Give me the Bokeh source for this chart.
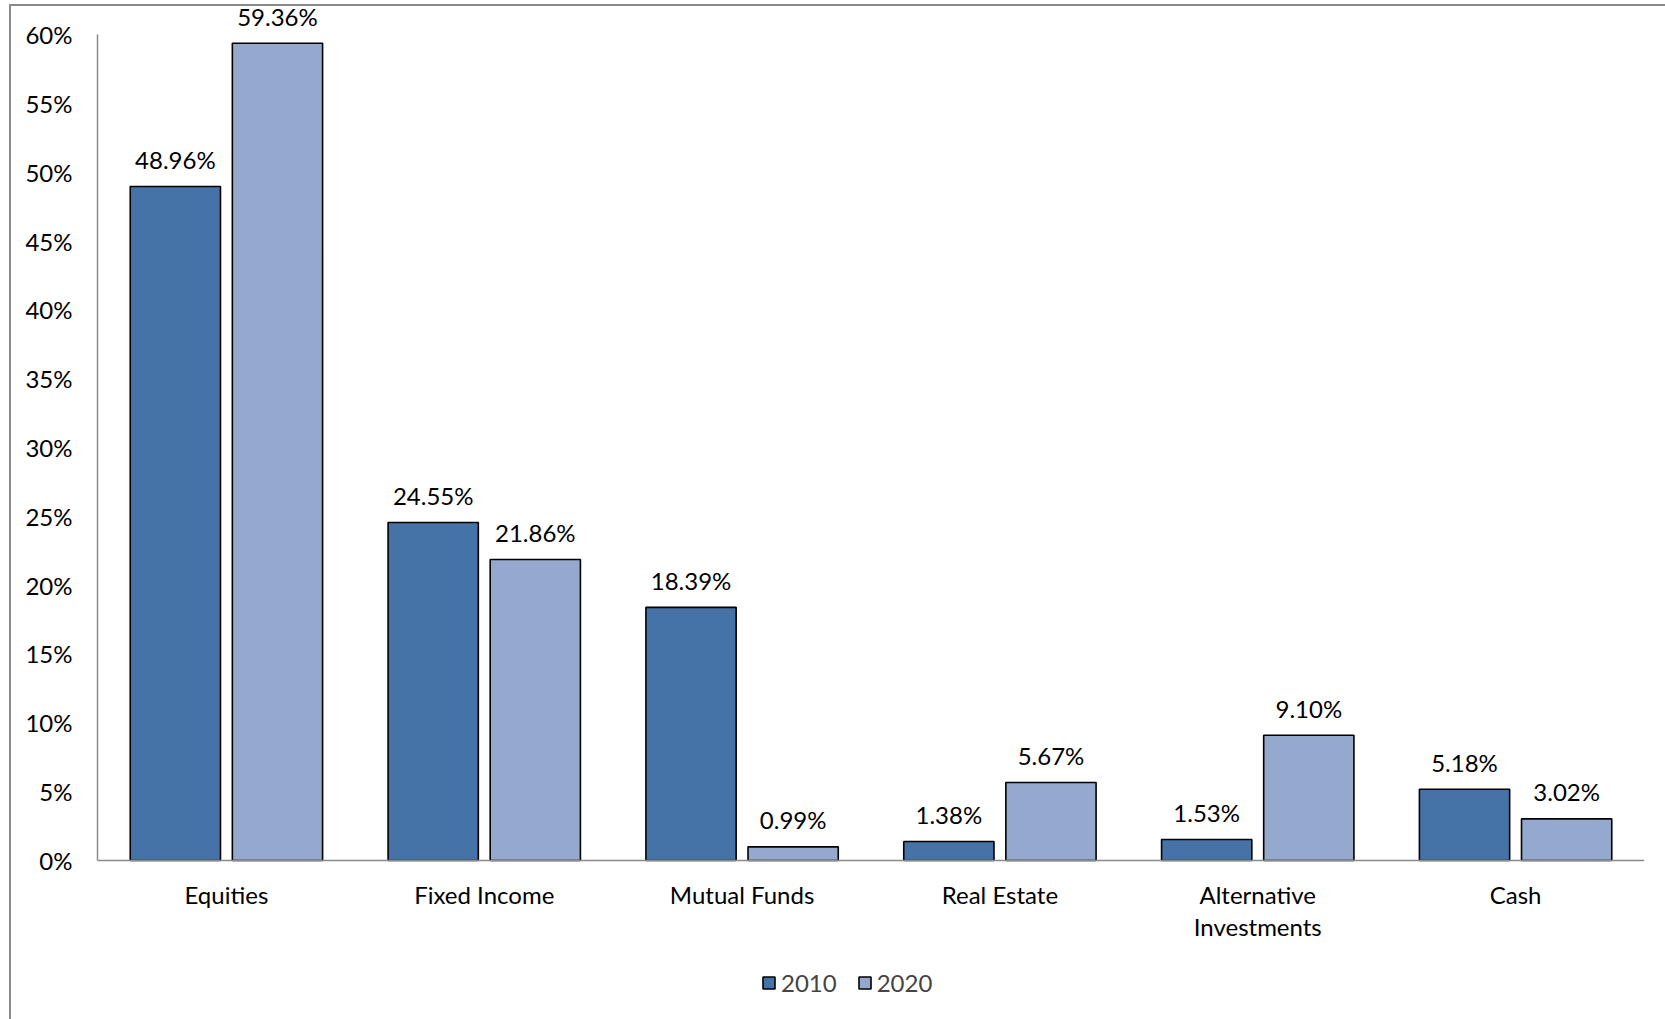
from bokeh.plotting import figure
from bokeh.models import ColumnDataSource, Range1d, FactorRange, Legend, LegendItem, FixedTicker, LabelSet
from bokeh.transform import dodge
from bokeh.core.properties import value
from bokeh.embed import file_html
from bokeh.resources import INLINE

categories = ["Equities", "Fixed Income", "Mutual Funds", "Real Estate", "Alternative\nInvestments", "Cash"]
values_2010 = [48.96, 24.55, 18.39, 1.38, 1.53, 5.18]
values_2020 = [59.36, 21.86, 0.99, 5.67, 9.10, 3.02]
y_ticks = [0, 5, 10, 15, 20, 25, 30, 35, 40, 45, 50, 55, 60]
series_names = ["2010", "2020"]

FONT = "Lato"
FS = "24px"
C2010 = "#4573A7"
C2020 = "#95A9CF"
GRAY = "#8a8a8a"

src = ColumnDataSource(dict(
    cat=categories,
    v2010=values_2010,
    v2020=values_2020,
    l2010=[f"{v:.2f}%" for v in values_2010],
    l2020=[f"{v:.2f}%" for v in values_2020],
))

# The frame covers the full height; the x axis sits at y=0 inside it,
# and the y axis line is limited to 0..60 %.
p = figure(x_range=FactorRange(*categories, range_padding=0), y_range=Range1d(-11.55, 62.47),
           width=1665, height=1019, output_backend="svg", toolbar_location=None,
           min_border_left=97, min_border_right=21, min_border_top=0, min_border_bottom=0)
p.styles = {
    "background-color": "white",
    "background-image": f"linear-gradient({GRAY}, {GRAY}), linear-gradient({GRAY}, {GRAY})",
    "background-position": "9px 4px, 9px 4px",
    "background-size": "calc(100% - 9px) 2px, 2px calc(100% - 4px)",
    "background-repeat": "no-repeat",
}
p.outline_line_color = None
p.xgrid.grid_line_color = None
p.ygrid.grid_line_color = None
p.background_fill_alpha = 0
p.border_fill_alpha = 0

bw = 0.35
off = 0.198
r1 = p.vbar(x=dodge("cat", -off, range=p.x_range), top="v2010", width=bw, source=src,
            fill_color=C2010, line_color="black", line_width=1.6)
r2 = p.vbar(x=dodge("cat", off, range=p.x_range), top="v2020", width=bw, source=src,
            fill_color=C2020, line_color="black", line_width=1.6)

for col, lab, o in (("v2010", "l2010", -off), ("v2020", "l2020", off)):
    ls = LabelSet(x=dodge("cat", o, range=p.x_range), y=col, text=lab, source=src,
                  text_font=value(FONT), text_font_size=FS, text_color="black",
                  text_align="center", text_baseline="middle", y_offset=27)
    p.add_layout(ls)

# axes
p.yaxis.ticker = FixedTicker(ticks=y_ticks)
p.yaxis.bounds = (0, 60)
p.yaxis.major_label_overrides = {t: f"{t}%" for t in y_ticks}
p.yaxis.major_tick_line_color = None
p.yaxis.minor_tick_line_color = None
p.yaxis.axis_line_color = GRAY
p.yaxis.axis_line_width = 1.5
p.yaxis.major_label_standoff = 19
for ax in (p.xaxis, p.yaxis):
    ax.major_label_text_font = FONT
    ax.major_label_text_font_size = FS
    ax.major_label_text_color = "black"
p.xaxis.fixed_location = 0
p.xaxis.major_tick_line_color = None
p.xaxis.axis_line_color = GRAY
p.xaxis.axis_line_width = 1.5
p.xaxis.major_label_standoff = 14
p.xaxis.major_label_text_line_height = 1.1

legend = Legend(items=[LegendItem(label=series_names[0], renderers=[r1]),
                       LegendItem(label=series_names[1], renderers=[r2])],
                orientation="horizontal", location=(664, 22),
                label_text_font=FONT, label_text_font_size=FS,
                glyph_width=15, glyph_height=15, label_standoff=5, spacing=20,
                border_line_color=None, background_fill_alpha=0, padding=0, margin=0)
p.add_layout(legend)

open("out.html", "w").write(file_html(p, INLINE))
